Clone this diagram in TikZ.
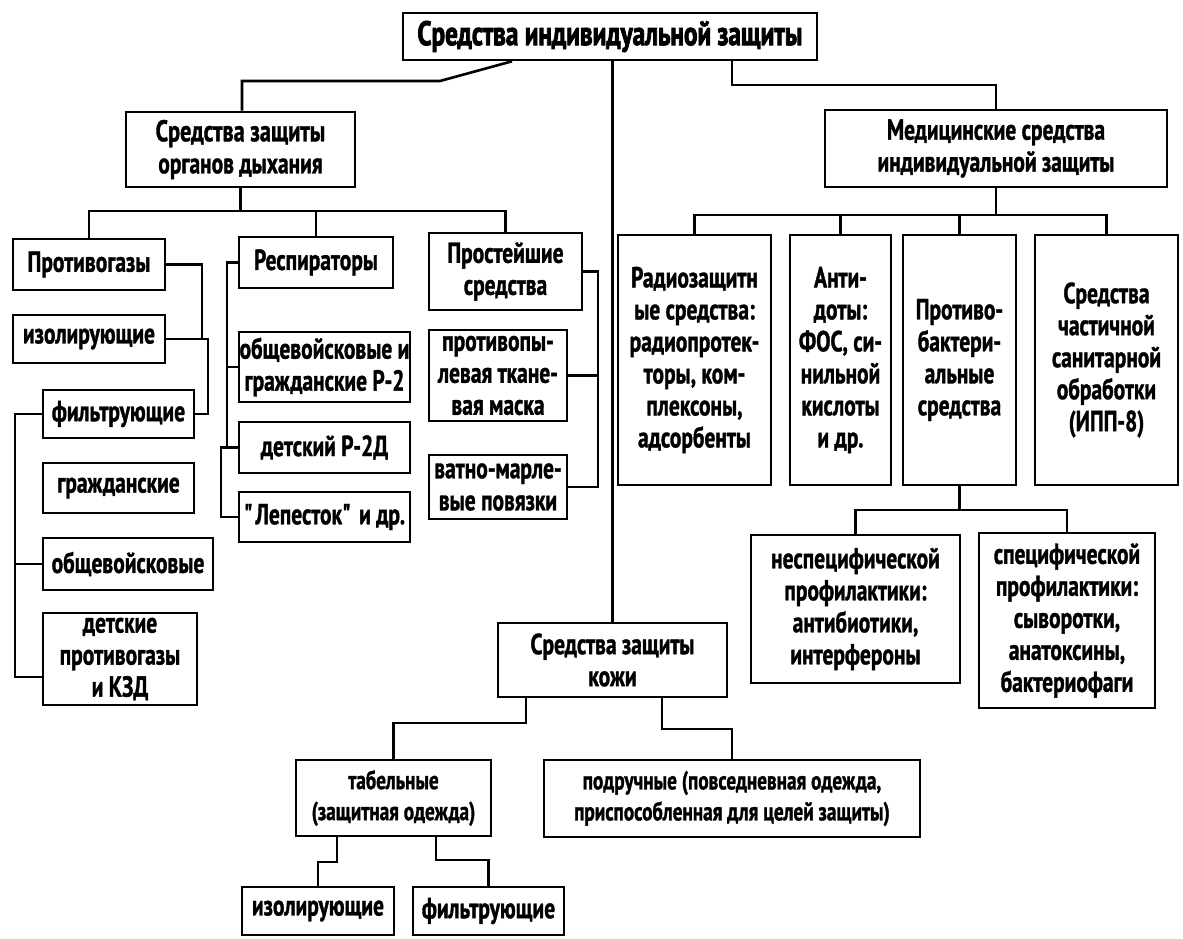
\documentclass[tikz,border=0pt]{standalone}
\usepackage{fontspec}
\setmainfont{PT Sans}[FakeStretch=0.74, BoldFeatures={FakeBold=1.2}]
\newfontfamily\heavyfont{PT Sans}[FakeStretch=0.74, BoldFeatures={FakeBold=2.4}]
\tikzset{
  box/.style={draw, line width=2.6pt, inner sep=0pt, align=center,
    font=\bfseries\fontsize{29}{32}\selectfont},
  topbox/.style={box, font=\heavyfont\bfseries\fontsize{34}{36}\selectfont},
  smallbox/.style={box, font=\bfseries\fontsize{26}{31}\selectfont},
  conn/.style={line width=2.6pt},
}
\newcommand\bx[7][box]{%
  \pgfmathsetmacro\bxw{#5-#3}\pgfmathsetmacro\bxh{#6-#4}%
  \pgfmathsetmacro\bxx{(#3+#5)/2}\pgfmathsetmacro\bxy{(#4+#6)/2}%
  \node[#1, minimum width=\bxw pt, minimum height=\bxh pt] (#2) at (\bxx,\bxy) {#7};}
\begin{document}
\begin{tikzpicture}[x=1pt,y=-1pt]
\fill[white] (0,0) rectangle (1183,938);
\useasboundingbox (0,0) rectangle (1183,938);

\bx[topbox]{top}{403}{13}{817}{60}{Средства индивидуальной защиты}
\bx{org}{126}{112}{355}{187}{\fontsize{30}{33}\selectfont Средства защиты\\органов дыхания}
\bx{med}{825}{110}{1167}{187}{Медицинские средства\\индивидуальной защиты}

\bx{gas}{13}{239}{165}{290}{Противогазы}
\bx{isoA}{13}{315}{165}{363}{изолирующие}
\bx{filA}{43}{390}{194}{438}{фильтрующие}
\bx{civ}{43}{463}{194}{513}{гражданские}
\bx{mil}{43}{538}{213}{590}{общевойсковые}
\bx{kid}{43}{613}{197}{705}{детские\\противогазы\\и КЗД}

\bx{resp}{239}{237}{393}{288}{Респираторы}
\bx{rtwo}{239}{332}{410}{402}{общевойсковые и\\гражданские Р-2}
\bx{rtwod}{239}{422}{410}{473}{детский Р-2Д}
\bx{lep}{239}{492}{410}{542}{\textquotedbl Лепесток\textquotedbl{} и др.}

\bx{simple}{429}{233}{582}{310}{Простейшие\\средства}
\bx{mask}{429}{330}{567}{421}{противопы-\\левая ткане-\\вая маска}
\bx{gauze}{429}{455}{567}{519}{ватно-марле-\\вые повязки}

\bx{radio}{618}{235}{771}{485}{Радиозащитн\\ые средства:\\радиопротек-\\торы, ком-\\плексоны,\\адсорбенты}
\bx{anti}{790}{235}{891}{485}{Анти-\\доты:\\ФОС, си-\\нильной\\кислоты\\и др.}
\bx{bact}{903}{235}{1016}{485}{Противо-\\бактери-\\альные\\средства}
\bx{part}{1035}{235}{1178}{485}{Средства\\частичной\\санитарной\\обработки\\(ИПП-8)}

\bx{nonsp}{751}{535}{960}{683}{неспецифической\\профилактики:\\антибиотики,\\интерфероны}
\bx{spec}{979}{533}{1155}{708}{специфической\\профилактики:\\сыворотки,\\анатоксины,\\бактериофаги}

\bx{skin}{498}{623}{727}{697}{Средства защиты\\кожи}
\bx[smallbox]{tab}{296}{760}{491}{836}{табельные\\(защитная одежда)}
\bx[smallbox]{hand}{544}{760}{920}{837}{подручные (повседневная одежда,\\приспособленная для целей защиты)}
\bx{isoB}{242}{887}{394}{935}{изолирующие}
\bx{filB}{413}{887}{564}{935}{фильтрующие}

% top level
\draw[conn] (512,0 |- top.south) -- (440,81) -- (242,81) -- (242,0 |- org.north);
\draw[conn] (top.south -| skin.north) -- (skin.north);
\draw[conn] (732,0 |- top.south) -- (732,85) -| (med.north);

% respiratory
\draw[conn] (org.south) -- (org.south |- 0,211);
\draw[conn] (gas.north) -- (gas.north |- 0,211) -- (simple.north |- 0,211) -- (simple.north);
\draw[conn] (resp.north) -- (resp.north |- 0,211);

\draw[conn] (gas.east) -| (202,0 |- isoA.east) -- (isoA.east);
\draw[conn] (isoA.east) -| (208,0 |- filA.east) -- (filA.east);
\draw[conn] (filA.west) -| (15,677) -- (kid.west |- 15,677);
\draw[conn] (15,0 |- mil.west) -- (mil.west);

\draw[conn] (resp.west) -| (227,0 |- rtwod.west) -- (rtwod.west);
\draw[conn] (227,0 |- rtwo.west) -- (rtwo.west);
\draw[conn] (227,0 |- rtwod.west) -- (221,0 |- rtwod.west) |- (lep.west);

\draw[conn] (simple.east) -| (598,0 |- gauze.east) -- (gauze.east);
\draw[conn] (598,0 |- mask.east) -- (mask.east);

% medical
\draw[conn] (med.south) -- (med.south |- 0,215);
\draw[conn] (radio.north) -- (radio.north |- 0,215) -- (part.north |- 0,215) -- (part.north);
\draw[conn] (anti.north) -- (anti.north |- 0,215);
\draw[conn] (bact.north) -- (bact.north |- 0,215);

\draw[conn] (bact.south) -- (bact.south |- 0,510);
\draw[conn] (nonsp.north) -- (nonsp.north |- 0,510) -- (spec.north |- 0,510) -- (spec.north);

% skin
\draw[conn] (526,0 |- skin.south) -- (526,723) -| (tab.north);
\draw[conn] (662,0 |- skin.south) -- (662,729) -| (hand.north);
\draw[conn] (337,0 |- tab.south) -- (337,862) -| (isoB.north);
\draw[conn] (436,0 |- tab.south) -- (436,860) -| (filB.north);
\end{tikzpicture}
\end{document}
